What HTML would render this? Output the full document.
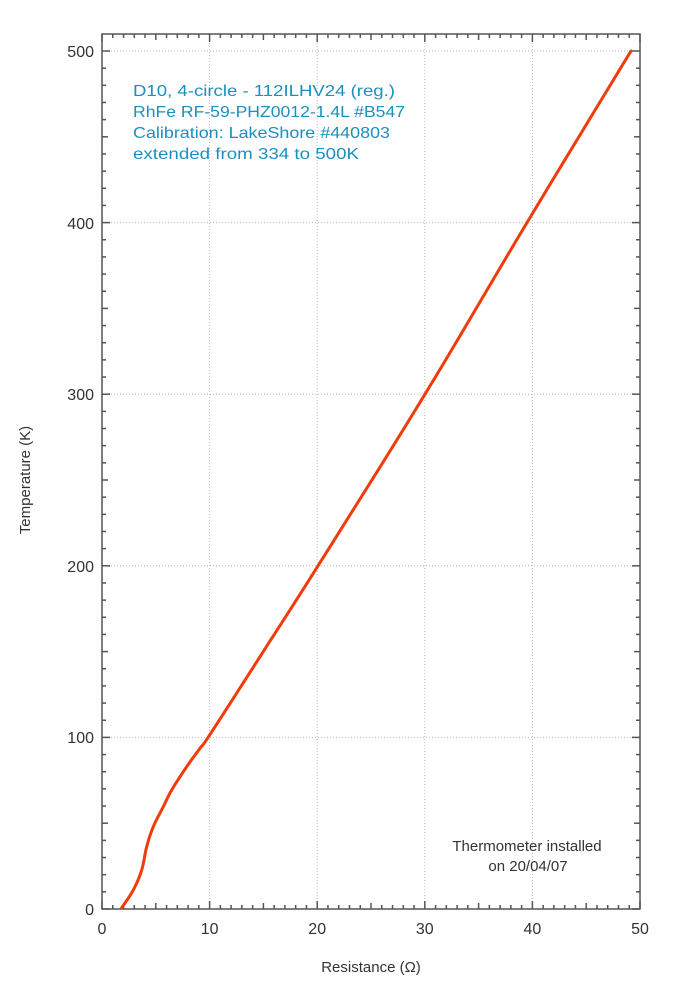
<!DOCTYPE html>
<html><head><meta charset="utf-8"><style>
html,body{margin:0;padding:0;background:#fff;}
svg{display:block;}
text{font-family:"Liberation Sans",sans-serif;}
</style></head><body>
<svg width="700" height="990" viewBox="0 0 700 990" xmlns="http://www.w3.org/2000/svg">
<g stroke="#bbb" stroke-width="1" stroke-dasharray="1,2">
<line x1="209.6" y1="34" x2="209.6" y2="909"/>
<line x1="317.2" y1="34" x2="317.2" y2="909"/>
<line x1="424.8" y1="34" x2="424.8" y2="909"/>
<line x1="532.4" y1="34" x2="532.4" y2="909"/>
<line x1="102" y1="737.4" x2="640" y2="737.4"/>
<line x1="102" y1="565.8" x2="640" y2="565.8"/>
<line x1="102" y1="394.2" x2="640" y2="394.2"/>
<line x1="102" y1="222.6" x2="640" y2="222.6"/>
<line x1="102" y1="51" x2="640" y2="51"/>
</g>
<g id="ticks" stroke="#555" stroke-width="1.5"></g>
<rect x="102" y="34" width="538" height="875" fill="none" stroke="#555" stroke-width="1.5"/>
<polyline id="curve" fill="none" stroke="#f03c0a" stroke-width="3" stroke-linejoin="round" stroke-linecap="round" points=""/>
<g fill="#333" font-size="16" text-anchor="end">
<text x="94" y="915">0</text><text x="94" y="743">100</text><text x="94" y="572">200</text><text x="94" y="400">300</text><text x="94" y="229">400</text><text x="94" y="57">500</text>
</g>
<g fill="#333" font-size="16" text-anchor="middle">
<text x="102" y="934">0</text><text x="209.6" y="934">10</text><text x="317.2" y="934">20</text><text x="424.8" y="934">30</text><text x="532.4" y="934">40</text><text x="640" y="934">50</text>
</g>
<text x="371" y="972" fill="#333" font-size="15" text-anchor="middle">Resistance (Ω)</text>
<text transform="translate(30,480) rotate(-90)" fill="#333" font-size="15" text-anchor="middle">Temperature (K)</text>
<g fill="#1a8fc0" font-size="16">
<text x="133" y="96" textLength="262" lengthAdjust="spacingAndGlyphs">D10, 4-circle - 112ILHV24 (reg.)</text>
<text x="133" y="117" textLength="272" lengthAdjust="spacingAndGlyphs">RhFe RF-59-PHZ0012-1.4L #B547</text>
<text x="133" y="138" textLength="257" lengthAdjust="spacingAndGlyphs">Calibration: LakeShore #440803</text>
<text x="133" y="159" textLength="226" lengthAdjust="spacingAndGlyphs">extended from 334 to 500K</text>
</g>
<g fill="#333" font-size="15" text-anchor="middle">
<text x="527" y="851">Thermometer installed</text>
<text x="528" y="871">on 20/04/07</text>
</g>
</svg>
<script>
var g=document.getElementById('ticks'),s='';
for(var i=0;i<=50;i++){var x=102+i*10.76,l=(i%10==0)?8:(i%5==0?6:4);
s+='<line x1="'+x+'" y1="909" x2="'+x+'" y2="'+(909-l)+'"/><line x1="'+x+'" y1="34" x2="'+x+'" y2="'+(34+l)+'"/>';}
for(var j=0;j<=50;j++){var y=909-j*17.16,l=(j%10==0)?8:(j%5==0?6:4);
s+='<line x1="102" y1="'+y+'" x2="'+(102+l)+'" y2="'+y+'"/><line x1="640" y1="'+y+'" x2="'+(640-l)+'" y2="'+y+'"/>';}
g.innerHTML=s;
var P=[[121.7,907.7],[133.3,890],[141.7,870],[146.7,846.7],[153.3,826.7],[163.3,806.7],[171.7,790],[186.7,766.7],[200,748.3],[210,734.5],[264,650.4],[318,565.8],[425,394.2],[527,222.6],[631,51]];
var out=[];
for(var k=0;k<P.length-1;k++){
 var p0=P[Math.max(k-1,0)],p1=P[k],p2=P[k+1],p3=P[Math.min(k+2,P.length-1)];
 for(var t=0;t<1;t+=0.1){
  var t2=t*t,t3=t2*t;
  var f=function(a,b,c,d){return 0.5*(2*b+(-a+c)*t+(2*a-5*b+4*c-d)*t2+(-a+3*b-3*c+d)*t3);};
  out.push(f(p0[0],p1[0],p2[0],p3[0]).toFixed(2)+','+f(p0[1],p1[1],p2[1],p3[1]).toFixed(2));
 }
}
out.push(P[P.length-1].join(','));
document.getElementById('curve').setAttribute('points',out.join(' '));
</script>
</body></html>
